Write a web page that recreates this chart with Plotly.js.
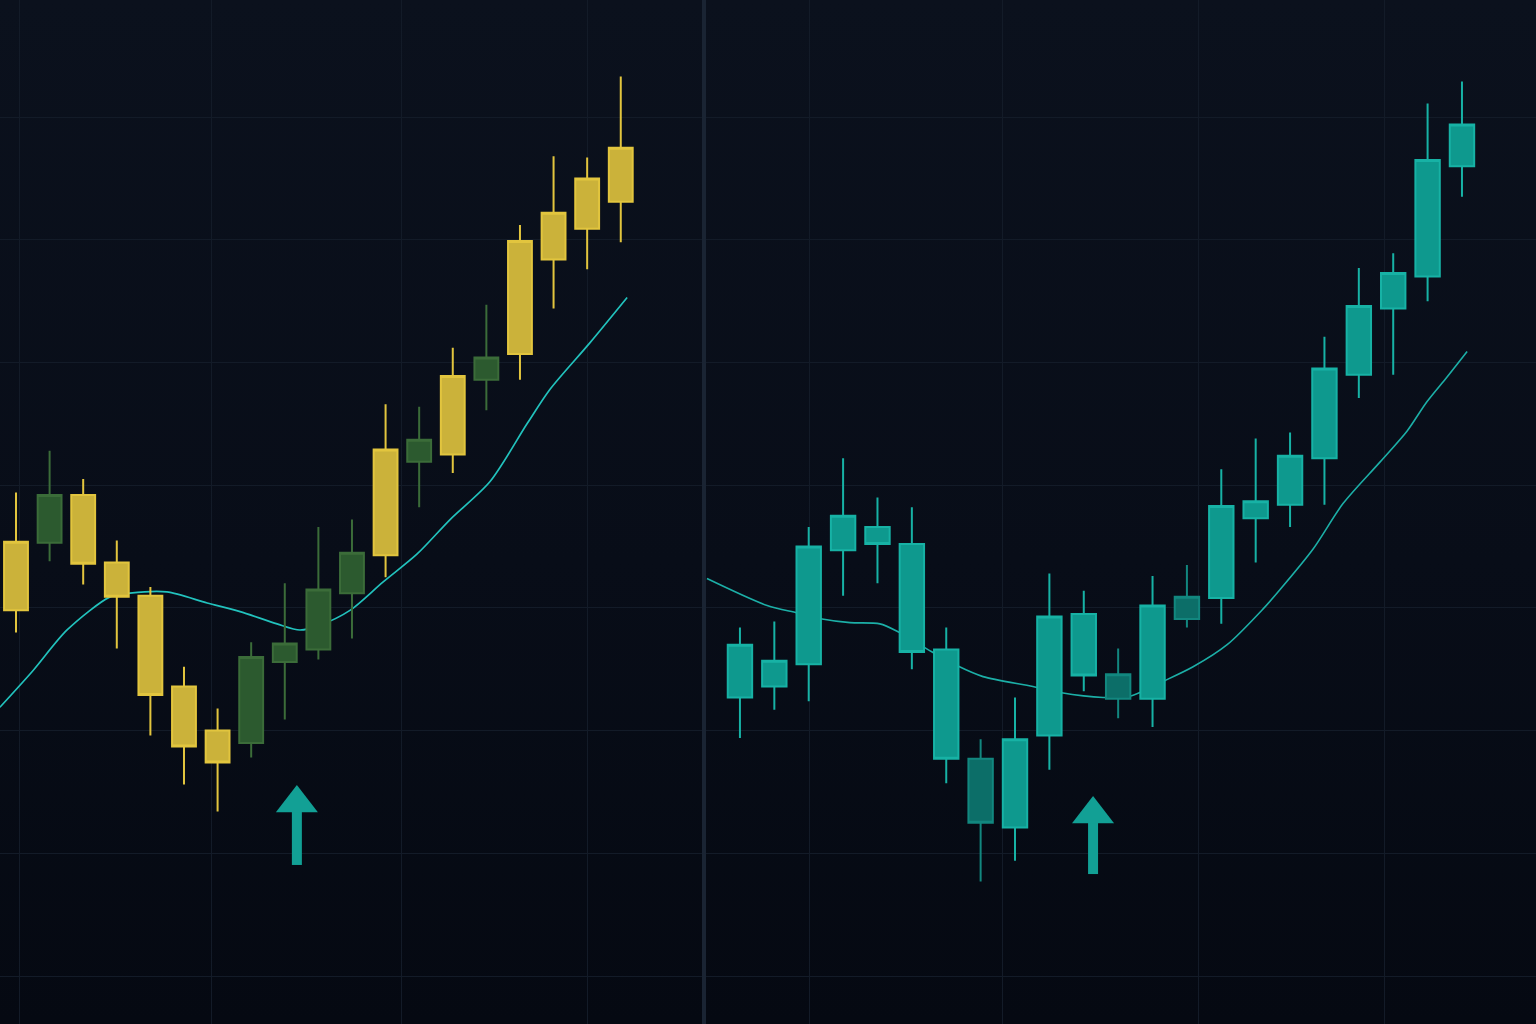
<!DOCTYPE html>
<html>
<head>
<meta charset="utf-8">
<script src="https://cdn.plot.ly/plotly-3.0.1.min.js"></script>
<style>
  html, body { margin: 0; padding: 0; width: 1536px; height: 1024px; overflow: hidden;
    background: linear-gradient(180deg, #0b111d 0%, #080d18 55%, #050912 100%); }
  #chart { width: 1536px; height: 1024px; }
</style>
</head>
<body>
<div id="chart"></div>
<script>
// ---------------- data ----------------
// Left panel: tone Y = yellow candle, G = dark green candle
const leftTone  = ['Y','G','Y','Y','Y','Y','Y','G','G','G','G','Y','G','Y','G','Y','Y','Y','Y'];
const leftOpen  = [109.8,115.3,119.2,113.7,111.0,103.6,100.0, 99.0,105.6,106.6,111.2,114.3,121.9,122.5,128.6,130.7,138.4,140.9,143.1];
const leftHigh  = [119.4,122.8,120.5,115.5,111.7,105.2,101.8,107.2,112.0,116.6,117.2,126.6,126.4,131.2,134.7,141.2,146.8,146.7,153.3];
const leftLow   = [108.0,113.8,111.9,106.7, 99.6, 95.6, 93.4, 97.8,100.9,105.8,107.5,112.5,118.2,121.0,126.1,128.6,134.4,137.6,139.8];
const leftClose = [115.4,119.2,113.6,110.9,102.9, 98.7, 97.4,106.0,107.1,111.5,114.5,122.9,123.7,128.9,130.4,139.9,142.2,145.0,147.5];
// Left moving-average line (x in candle-index units)
const leftMaX = [0.52,1.51,2.52,3.80,4.39,5.49,6.69,7.67,8.77,9.45,10.05,10.94,11.92,12.94,13.92,15.11,16.21,16.89,18.08,19.19];
const leftMaY = [101.9,104.9,108.2,110.9,111.2,111.3,110.4,109.7,108.7,108.2,108.6,109.8,112.1,114.4,117.2,120.3,125.0,127.8,131.6,135.3];

// Right panel: tone T = teal candle, D = darker teal candle
const rightTone  = ['T','T','T','T','T','T','T','D','T','T','T','D','T','D','T','T','T','T','T','T','T','T'];
const rightOpen  = [102.7,103.6,105.4,114.7,116.6,115.2,106.6,97.7,92.1, 99.6,109.5,102.6,102.6,109.1,110.8,117.3,118.4,122.2,129.0,134.4,137.0,146.0];
const rightHigh  = [108.4,108.9,116.6,122.2,119.0,118.2,108.4,99.3,102.7,112.8,111.4,106.7,112.6,113.5,121.3,123.8,124.3,132.1,137.7,138.9,151.1,152.9];
const rightLow   = [ 99.4,101.7,102.4,111.0,112.0,105.0, 95.7,87.7, 89.4, 96.8,103.2,101.0,100.3,108.4,108.7,113.7,116.6,118.4,127.1,129.0,135.0,143.5];
const rightClose = [107.0,105.7,115.0,117.5,115.2,106.4, 97.7,92.5, 99.3,109.3,104.5,104.6,110.2,110.9,118.3,118.7,122.4,129.5,134.6,137.3,146.5,149.4];
const rightMaX = [0.04,1.79,2.66,3.39,4.20,5.07,5.57,6.53,7.31,8.07,9.52,10.31,11.56,12.34,13.30,14.18,15.17,16.21,16.71,17.67,18.54,19.62,20.40,20.98,21.56,22.15];
const rightMaY = [112.4,110.2,109.6,109.1,108.8,108.7,108.1,106.5,105.3,104.4,103.6,103.1,102.7,102.8,104.0,105.2,107.0,109.9,111.5,114.8,118.5,121.9,124.4,126.8,128.8,130.9];

// Signal arrows (left, right): x in candle-index units, shaft base and head level in price units
const arrowX    = [9.36, 11.27];
const arrowBase = [89.05, 88.31];
const arrowHead = [94.08, 93.19];

// Vertical grid positions (candle-index units) for each panel
const leftGridX  = [1.09, 6.83, 12.46, 18.02];
const rightGridX = [3.01, 8.65, 14.35, 19.76];

// ---------------- build ----------------
const Y_RANGE = [76.09, 159.54];
const GRID = '#131b28';
const idx = arr => arr.map((_, i) => i + 1);
const pick = (arr, tone, t) => arr.filter((_, i) => tone[i] === t);

function candles(tone, t, o, h, l, c, fill, line, xa, ya) {
  const x = idx(o);
  const style = { fillcolor: fill, line: { color: line, width: 2 } };
  return {
    type: 'candlestick', xaxis: xa, yaxis: ya,
    x: pick(x, tone, t), open: pick(o, tone, t), high: pick(h, tone, t),
    low: pick(l, tone, t), close: pick(c, tone, t),
    increasing: style, decreasing: style, whiskerwidth: 0,
    hoverinfo: 'skip', showlegend: false
  };
}

function arrow(k, xa, ya) {
  const col = '#12a095';
  return [
    { type: 'scatter', mode: 'lines', xaxis: xa, yaxis: ya,
      x: [arrowX[k], arrowX[k]], y: [arrowBase[k], arrowHead[k]],
      line: { color: col, width: 10 }, hoverinfo: 'skip', showlegend: false },
    { type: 'scatter', mode: 'markers', xaxis: xa, yaxis: ya,
      x: [arrowX[k]], y: [arrowHead[k]],
      marker: { symbol: 'triangle-up', size: 36.4, color: col, line: { width: 0 } },
      hoverinfo: 'skip', showlegend: false }
  ];
}

const data = [
  // base layers: moving averages + arrows
  { type: 'scatter', mode: 'lines', xaxis: 'x', yaxis: 'y', x: leftMaX, y: leftMaY,
    line: { color: '#22c2bd', width: 1.7, shape: 'spline', smoothing: 0.8 },
    hoverinfo: 'skip', showlegend: false },
  { type: 'scatter', mode: 'lines', xaxis: 'x2', yaxis: 'y2', x: rightMaX, y: rightMaY,
    line: { color: '#1cafa7', width: 1.6, shape: 'spline', smoothing: 0.8 },
    hoverinfo: 'skip', showlegend: false },
  ...arrow(0, 'x', 'y'),
  ...arrow(1, 'x2', 'y2'),
  // overlay layers: candles drawn above the lines
  candles(leftTone, 'Y', leftOpen, leftHigh, leftLow, leftClose, '#cbb23a', '#e2c53e', 'x3', 'y3'),
  candles(leftTone, 'G', leftOpen, leftHigh, leftLow, leftClose, '#2c5a2f', '#3b6c39', 'x3', 'y3'),
  candles(rightTone, 'T', rightOpen, rightHigh, rightLow, rightClose, '#0e998e', '#17b2a5', 'x4', 'y4'),
  candles(rightTone, 'D', rightOpen, rightHigh, rightLow, rightClose, '#0c6e68', '#12877f', 'x4', 'y4')
];

const baseY = {
  range: Y_RANGE, tick0: 0, dtick: 10, showgrid: true, gridcolor: GRID, gridwidth: 1,
  zeroline: false, showticklabels: false, ticks: '', fixedrange: true, domain: [0, 1]
};
const hiddenAxis = { visible: false, fixedrange: true, rangeslider: { visible: false } };

const layout = {
  width: 1536, height: 1024,
  margin: { l: 0, r: 0, t: 0, b: 0, pad: 0 },
  paper_bgcolor: 'rgba(0,0,0,0)', plot_bgcolor: 'rgba(0,0,0,0)',
  showlegend: false, hovermode: false,
  boxmode: 'overlay', boxgap: 0.29, boxgroupgap: 0,
  xaxis: { domain: [0, 0.4583], range: [0.5238, 21.476], anchor: 'y',
    tickmode: 'array', tickvals: leftGridX, showticklabels: false, ticks: '',
    showgrid: true, gridcolor: GRID, gridwidth: 1, zeroline: false,
    fixedrange: true, rangeslider: { visible: false } },
  yaxis: Object.assign({}, baseY, { anchor: 'x' }),
  xaxis2: { domain: [0.4596, 1], range: [0.011, 24.153], anchor: 'y2',
    tickmode: 'array', tickvals: rightGridX, showticklabels: false, ticks: '',
    showgrid: true, gridcolor: GRID, gridwidth: 1, zeroline: false,
    fixedrange: true, rangeslider: { visible: false } },
  yaxis2: Object.assign({}, baseY, { anchor: 'x2', showline: true,
    linecolor: '#1a2433', linewidth: 4 }),
  xaxis3: Object.assign({}, hiddenAxis, { overlaying: 'x', range: [0.5238, 21.476], anchor: 'y3' }),
  yaxis3: Object.assign({}, hiddenAxis, { overlaying: 'y', range: Y_RANGE, anchor: 'x3' }),
  xaxis4: Object.assign({}, hiddenAxis, { overlaying: 'x2', range: [0.011, 24.153], anchor: 'y4' }),
  yaxis4: Object.assign({}, hiddenAxis, { overlaying: 'y2', range: Y_RANGE, anchor: 'x4' })
};

Plotly.newPlot('chart', data, layout, { staticPlot: true, displayModeBar: false });
</script>
</body>
</html>
